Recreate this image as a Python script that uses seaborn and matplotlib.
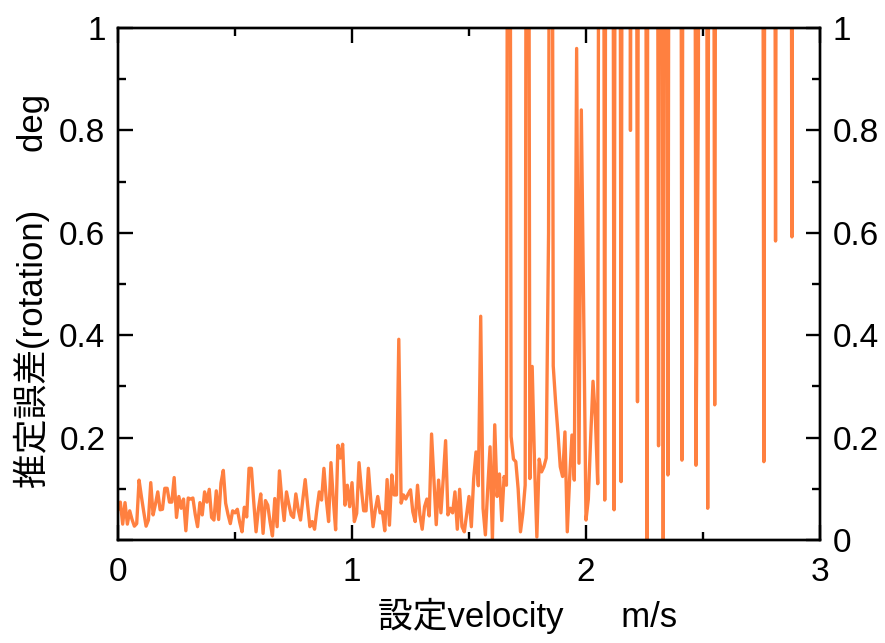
import numpy as np
import pandas as pd
import matplotlib
matplotlib.use("Agg")
import matplotlib.pyplot as plt
from matplotlib.ticker import MultipleLocator, FixedLocator, FixedFormatter
import seaborn as sns

# ---- data ----
velocity = np.round(np.arange(0, 301) * 0.01, 2)

error = [
    0.059, 0.074, 0.031, 0.073, 0.031, 0.057, 0.040, 0.027, 0.032, 0.117,
    0.085, 0.055, 0.027, 0.039, 0.112, 0.049, 0.070, 0.094, 0.059, 0.060,
    0.101, 0.101, 0.074, 0.074, 0.122, 0.044, 0.085, 0.062, 0.080, 0.018,
    0.082, 0.080, 0.082, 0.050, 0.026, 0.073, 0.049, 0.094, 0.074, 0.099,
    0.044, 0.039, 0.096, 0.040, 0.111, 0.136, 0.072, 0.050, 0.032, 0.057,
    0.053, 0.060, 0.035, 0.016, 0.064, 0.045, 0.140, 0.140, 0.075, 0.016,
    0.060, 0.090, 0.013, 0.077, 0.068, 0.035, 0.008, 0.081, 0.026, 0.135,
    0.080, 0.038, 0.094, 0.070, 0.049, 0.044, 0.090, 0.060, 0.039, 0.080,
    0.118, 0.070, 0.026, 0.036, 0.021, 0.060, 0.094, 0.078, 0.140, 0.080,
    0.036, 0.151, 0.080, 0.020, 0.185, 0.160, 0.187, 0.068, 0.107, 0.065,
    0.112, 0.036, 0.052, 0.151, 0.100, 0.057, 0.057, 0.140, 0.080, 0.026,
    0.060, 0.085, 0.053, 0.055, 0.018, 0.118, 0.029, 0.127, 0.088, 0.088,
    0.392, 0.072, 0.088, 0.080, 0.090, 0.098, 0.055, 0.036, 0.107, 0.049,
    0.021, 0.065, 0.080, 0.047, 0.207, 0.120, 0.030, 0.117, 0.053, 0.120,
    0.194, 0.049, 0.062, 0.053, 0.094, 0.021, 0.099, 0.026, 0.016, 0.050,
    0.085, 0.026, 0.120, 0.172, 0.106, 0.437, 0.062, 0.010, 0.100, 0.182,
    0.000, 0.225, 0.085, 0.129, 0.038, 0.124, 0.107, 3.000, 0.202, 0.158,
    0.153, 0.100, 0.016, 0.052, 0.107, 3.000, 0.120, 0.339, 0.150, 0.006,
    0.158, 0.133, 0.143, 0.160, 0.600, 3.000, 0.340, 0.270, 0.210, 0.143,
    0.124, 0.211, 0.016, 0.120, 0.205, 0.117, 0.960, 0.150, 0.840, 0.450,
    0.039, 0.080, 0.200, 0.310, 0.240, 0.110, 3.000, 3.000, 0.078, 3.000,
    3.000, 3.000, 0.059, 3.000, 3.000, 0.114, 3.000, 3.000, 3.000, 0.800,
    3.000, 3.000, 0.270, 3.000, 3.000, 3.000, 0.000, 3.000, 3.000, 3.000,
    3.000, 0.184, 3.000, 0.000, 3.000, 0.127, 3.000, 3.000, 3.000, 3.000,
    3.000, 0.156, 3.000, 3.000, 3.000, 3.000, 3.000, 0.146, 0.867, 3.000,
    3.000, 3.000, 0.062, 3.000, 3.000, 0.264, 3.000, 3.000, 3.000, 3.000,
    3.000, 3.000, 3.000, 3.000, 3.000, 3.000, 3.000, 3.000, 3.000, 3.000,
    3.000, 3.000, 3.000, 3.000, 3.000, 3.000, 0.153, 3.000, 3.000, 3.000,
    3.000, 0.584, 3.000, 3.000, 3.000, 3.000, 3.000, 3.000, 0.592, 3.000,
    3.000, 3.000, 3.000, 3.000, 3.000, 3.000, 3.000, 3.000, 3.000, 3.000,
    3.000,
]

x_ticks = [0, 1, 2, 3]
x_tick_labels = ["0", "1", "2", "3"]
y_ticks = [0, 0.2, 0.4, 0.6, 0.8, 1.0]
y_left_labels = ["", "0.2", "0.4", "0.6", "0.8", "1"]
y_right_labels = ["0", "0.2", "0.4", "0.6", "0.8", "1"]
x_label = "設定velocity      m/s"
y_label = "推定誤差(rotation)      deg"

df = pd.DataFrame({"velocity": velocity, "error": error})

# ---- style ----
sns.set_theme(style="ticks")
plt.rcParams["font.family"] = ["Liberation Sans", "Noto Sans CJK JP", "DejaVu Sans"]
plt.rcParams["axes.unicode_minus"] = False
for k in ["text.color", "axes.labelcolor", "xtick.color", "ytick.color",
          "axes.edgecolor", "xtick.labelcolor", "ytick.labelcolor"]:
    plt.rcParams[k] = "black"

fig = plt.figure(figsize=(8.85, 6.43), dpi=100)
ax = fig.add_axes([118 / 885, 1 - 540 / 643, 702 / 885, 512 / 643])

sns.lineplot(data=df, x="velocity", y="error", ax=ax, color="#FF8040",
             linewidth=2.4, estimator=None, sort=False)

ax.set_xlim(0, 3)
ax.set_ylim(0, 1)

for s in ax.spines.values():
    s.set_linewidth(1.7)
    s.set_color("black")

ax.xaxis.set_major_locator(FixedLocator(x_ticks))
ax.xaxis.set_major_formatter(FixedFormatter(x_tick_labels))
ax.xaxis.set_minor_locator(MultipleLocator(0.5))
ax.yaxis.set_major_locator(FixedLocator(y_ticks))
ax.yaxis.set_major_formatter(FixedFormatter(y_left_labels))
ax.yaxis.set_minor_locator(MultipleLocator(0.1))

ax.tick_params(which="both", direction="in", top=True, right=False,
               width=1.7, color="black", labelcolor="black", labelsize=24)
ax.tick_params(which="major", length=11)
ax.tick_params(which="minor", length=6)
ax.tick_params(axis="x", which="major", pad=12)
ax.tick_params(axis="y", which="major", pad=9)

ax2 = ax.twinx()
ax2.set_ylim(0, 1)
ax2.yaxis.set_major_locator(FixedLocator(y_ticks))
ax2.yaxis.set_major_formatter(FixedFormatter(y_right_labels))
ax2.yaxis.set_minor_locator(MultipleLocator(0.1))
ax2.tick_params(which="both", direction="in", width=1.7, color="black",
                labelcolor="black", labelsize=24)
ax2.tick_params(which="major", length=10, pad=9)
ax2.tick_params(which="minor", length=5.5)
for s in ax2.spines.values():
    s.set_linewidth(1.7)
    s.set_color("black")

ax.set_xlabel(x_label, fontsize=25, color="black")
ax.set_ylabel(y_label, fontsize=25, color="black")
ax.xaxis.set_label_coords(0.583, -0.112)
ax.yaxis.set_label_coords(-0.097, 0.486)

fig.savefig("out.png", dpi=100)
